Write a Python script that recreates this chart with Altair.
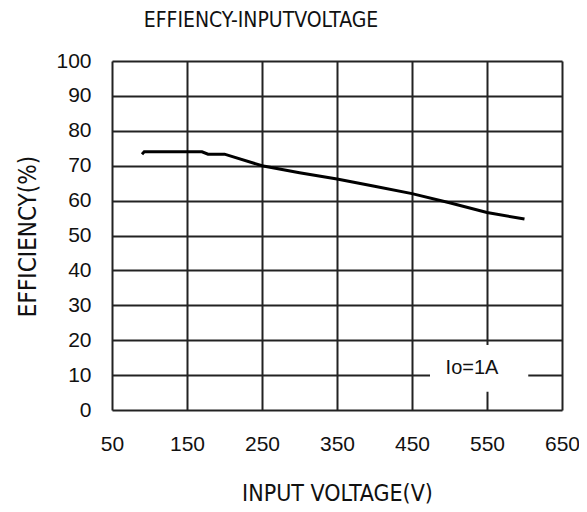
import altair as alt
import pandas as pd

voltage = [90, 93, 100, 170, 178, 200, 250, 300, 350, 400, 450, 500, 550, 600]
efficiency = [73.3, 74.0, 74.0, 74.0, 73.3, 73.3, 70.0, 68.0, 66.2, 64.1, 62.0, 59.4, 56.6, 54.7]

x_ticks = [50, 150, 250, 350, 450, 550, 650]
y_ticks = [0, 10, 20, 30, 40, 50, 60, 70, 80, 90, 100]

chart_title = ["EFFIENCY-INPUTVOLTAGE"]
note_text = ["Io=1A"]
note_x = [530]
note_y = [11.9]
box_x = [474]
box_x2 = [605]
box_y = [5.2]
box_y2 = [18.6]

df = pd.DataFrame({"v": voltage, "e": efficiency, "o": list(range(len(voltage)))})
note = pd.DataFrame({"t": note_text, "x": note_x, "y": note_y})
box = pd.DataFrame({"x": box_x, "x2": box_x2, "y": box_y, "y2": box_y2})
ttl = pd.DataFrame({"t": chart_title})

FONT = "Liberation Sans"
NARROW = "Liberation Sans Narrow, DejaVu Sans Condensed, sans-serif"
GRID = "#222222"

xscale = alt.Scale(domain=[50, 650], nice=False, zero=False)
yscale = alt.Scale(domain=[0, 100], nice=False)

xaxis = alt.Axis(values=x_ticks, title="INPUT VOLTAGE(V)", grid=True,
                 gridColor=GRID, gridWidth=2, gridOpacity=1,
                 domain=False, ticks=False, labelOverlap=False,
                 labelFont=FONT, labelFontSize=21, labelColor="#111111",
                 labelPadding=23, labelFlush=False,
                 titleFont=NARROW, titleFontSize=23, titleFontWeight="normal",
                 titleColor="#111111", titleY=90, titleBaseline="alphabetic")
yaxis = alt.Axis(values=y_ticks, title="EFFICIENCY(%)", grid=True,
                 gridColor=GRID, gridWidth=2, gridOpacity=1,
                 domain=False, ticks=False, labelOverlap=False,
                 labelFont=FONT, labelFontSize=21, labelColor="#111111",
                 labelPadding=21, labelFlush=False,
                 titleFont=NARROW, titleFontSize=24, titleFontWeight="normal",
                 titleColor="#111111", titleAngle=270, titleX=-77, titleY=175,
                 titleAlign="center", titleBaseline="alphabetic")

line = alt.Chart(df).mark_line(color="black", strokeWidth=3, interpolate="linear").encode(
    x=alt.X("v:Q", scale=xscale, axis=xaxis),
    y=alt.Y("e:Q", scale=yscale, axis=yaxis),
    order="o:Q",
)

rect = alt.Chart(box).mark_rect(color="white", opacity=1).encode(
    x=alt.X("x:Q", scale=xscale, axis=xaxis), x2="x2:Q",
    y=alt.Y("y:Q", scale=yscale, axis=yaxis), y2="y2:Q",
)

text = alt.Chart(note).mark_text(font=FONT, fontSize=20, color="#111111").encode(
    x=alt.X("x:Q", scale=xscale, axis=xaxis),
    y=alt.Y("y:Q", scale=yscale, axis=yaxis),
    text="t:N",
)

title_mark = alt.Chart(ttl).mark_text(font=NARROW, fontSize=21, color="#111111",
                                      align="center", baseline="alphabetic").encode(
    x=alt.value(149), y=alt.value(-34), text="t:N",
)

chart = alt.layer(line, rect, text, title_mark).properties(
    width=450, height=349,
    autosize=alt.AutoSizeParams(type="none"),
    padding={"left": 104, "top": 53, "right": 17, "bottom": 94},
).configure_view(stroke=GRID, strokeWidth=2).configure(background="white")

chart.save("out.html", embed_options={"renderer": "svg", "actions": False})
